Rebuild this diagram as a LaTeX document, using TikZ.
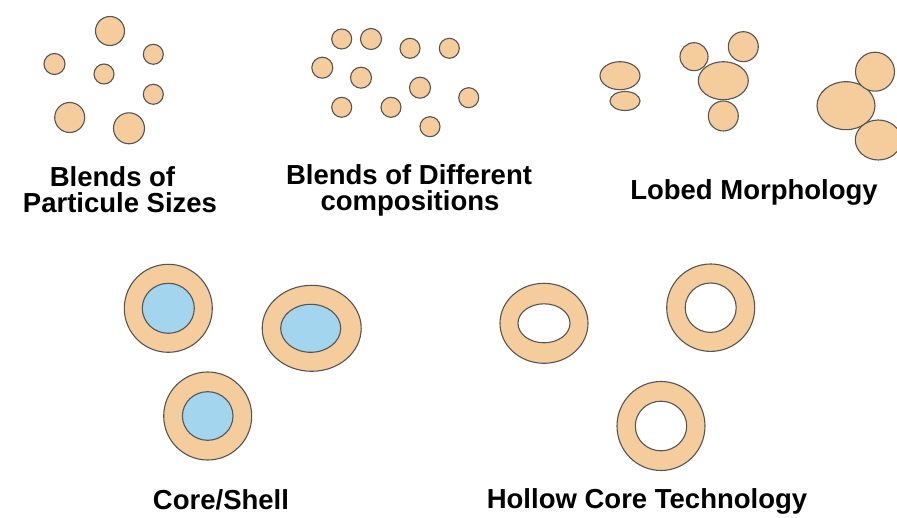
\documentclass[tikz,border=0pt]{standalone}
\usepackage{fontspec}
\setmainfont{Liberation Sans}
\definecolor{peach}{RGB}{245,204,155}
\definecolor{corebl}{RGB}{163,213,239}
\definecolor{edge}{RGB}{85,85,85}
\begin{document}
\begin{tikzpicture}[x=1pt,y=-1pt,
  part/.style={fill=peach,draw=edge,line width=1.1pt},
  core/.style={fill=corebl,draw=edge,line width=1.1pt},
  hole/.style={fill=white,draw=edge,line width=1.1pt},
  lbl/.style={anchor=base,inner sep=0pt,font=\bfseries\fontsize{27.5}{27.5}\selectfont}]
\useasboundingbox (0,0) rectangle (897,518);
% Blends of particle sizes
\path[part] (110,31) circle (14.5);
\path[part] (153.3,54.3) circle (10);
\path[part] (54.5,64) circle (10.5);
\path[part] (104,74) circle (10);
\path[part] (153.3,94.3) circle (10);
\path[part] (69.7,117.5) circle (15);
\path[part] (129,128.3) circle (15.5);
\node[lbl] (l1a) at (112.5,186.5) {Blends of};
\node[lbl] (l1b) at (120,213) {Particule Sizes};
% Blends of different compositions
\path[part] (341.7,39) circle (10);
\path[part] (371,39) circle (10.5);
\path[part] (410,48.3) circle (10);
\path[part] (449.3,48.3) circle (10);
\path[part] (322.3,67.7) circle (10.5);
\path[part] (361,77.7) circle (10.5);
\path[part] (420,87.7) circle (10.5);
\path[part] (468.7,97.7) circle (10);
\path[part] (341.7,107.3) circle (10);
\path[part] (391,107.3) circle (10);
\path[part] (430,126.7) circle (10);
\node[lbl] (l2a) at (409,185) {Blends of Different};
\node[lbl] (l2b) at (410,211) {compositions};
% Lobed morphology
\path[part] (620,75.7) ellipse (20 and 14);
\path[part] (625,101) ellipse (15 and 9.5);
\path[part] (694,56.7) circle (14);
\path[part] (743.3,46.7) circle (15);
\path[part] (723.3,116) circle (15);
\path[part] (723.3,80.7) ellipse (25 and 19);
\path[part] (846,105.7) ellipse (29 and 24);
\path[part] (875,71.7) circle (19.5);
\path[part] (878.3,140) ellipse (23 and 20);
\node[lbl] (l3) at (754,200) {Lobed Morphology};
% Core/Shell
\path[part] (168.3,308.3) circle (44);
\path[core] (168.3,308.3) ellipse (26 and 25);
\path[part] (311.7,328.3) ellipse (49.5 and 43);
\path[core] (310.7,328.3) ellipse (30 and 24);
\path[part] (207.7,416) circle (44);
\path[core] (207.7,416) ellipse (25.3 and 24.3);
\node[lbl] (l4) at (221,509) {Core/Shell};
% Hollow core
\path[part] (544,323.3) ellipse (44 and 40);
\path[hole] (544,323.3) ellipse (26 and 19.5);
\path[part] (710.7,307.7) ellipse (44 and 43.7);
\path[hole] (710.7,307.7) ellipse (25.5 and 24.7);
\path[part] (661,426) ellipse (44 and 44.5);
\path[hole] (661,426) ellipse (25.7 and 24.8);
\node[lbl] (l5) at (647,508) {Hollow Core Technology};
\end{tikzpicture}
\end{document}
